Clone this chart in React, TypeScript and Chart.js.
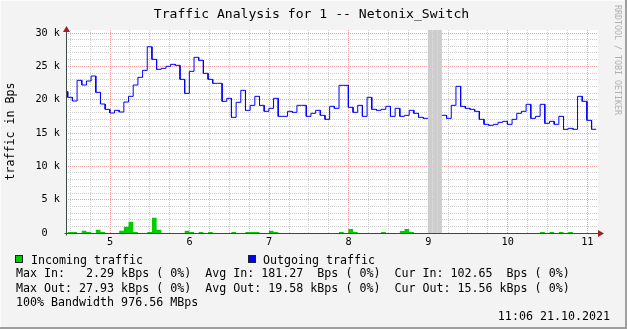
import React, { useEffect, useRef } from 'react';
import { Chart, registerables } from 'chart.js';

Chart.register(...registerables);

// ---- data ----
const TITLE = 'Traffic Analysis for 1 -- Netonix_Switch';
const Y_TITLE = 'traffic in Bps';
const WATERMARK = 'RRDTOOL / TOBI OETIKER';
const DATE_TEXT = '11:06 21.10.2021';

const LEGEND_IN = 'Incoming traffic';
const LEGEND_OUT = 'Outgoing traffic';
const STATS_IN = 'Max In:   2.29 kBps ( 0%)  Avg In: 181.27  Bps ( 0%)  Cur In: 102.65  Bps ( 0%)';
const STATS_OUT = 'Max Out: 27.93 kBps ( 0%)  Avg Out: 19.58 kBps ( 0%)  Cur Out: 15.56 kBps ( 0%)';
const STATS_BW = '100% Bandwidth 976.56 MBps';

// time axis (hours of day)
const START_HOUR = 4.4095; // start of first sample
const STEP_HOURS = 0.0588; // sample duration
const X_MIN = 4.4465;
const X_MAX = 11.1345;
const Y_MAX = 30450;

const hourTicks = [5, 6, 7, 8, 9, 10, 11];
const yMajorTicks = [0, 5000, 10000, 15000, 20000, 25000, 30000];

// outgoing traffic, Bps (null = unknown)
const outgoing: (number | null)[] = [
  21200, 20350, 19800, 22900, 22200, 22800, 23550, 21100, 19350, 18550,
  18000, 18400, 18150, 19650, 20500, 22200, 23350, 24400, 27930, 26050,
  24550, 24700, 25000, 25300, 25150, 23050, 20950, 24250, 26350, 25900,
  23950, 23050, 22450, 22450, 19750, 20200, 17350, 19600, 21400, 18400,
  19150, 20500, 19150, 18250, 18700, 20200, 17500, 17500, 18250, 18100,
  19150, 19150, 17500, 17950, 18400, 17650, 17050, 19000, 18700, 22150,
  22150, 18850, 18100, 19150, 17500, 20350, 18550, 18400, 18550, 19000,
  17500, 18700, 17500, 17650, 18400, 17950, 17350, 17200, null, null,
  null, 17650, 17200, 19150, 22000, 19000, 18700, 18550, 18250, 17050,
  16300, 16150, 16300, 16600, 16750, 16300, 17050, 17950, 18250, 19300,
  17200, 17500, 19300, 16450, 16750, 16300, 17500, 15550, 15700, 15550,
  20500, 19750, 16900, 15560,
];

// incoming traffic, Bps (null = unknown)
const incoming: (number | null)[] = [
  0, 150, 150, 0, 350, 150, 0, 500, 150, 0,
  0, 0, 350, 950, 1700, 150, 0, 0, 150, 2290,
  500, 0, 0, 0, 0, 0, 350, 150, 0, 150,
  0, 150, 0, 0, 0, 0, 150, 0, 0, 150,
  150, 150, 0, 0, 350, 150, 0, 0, 0, 0,
  0, 0, 0, 0, 0, 0, 0, 0, 0, 150,
  0, 600, 150, 0, 0, 0, 0, 0, 150, 0,
  0, 0, 300, 600, 150, 0, 0, 0, null, null,
  null, 0, 0, 0, 0, 0, 0, 0, 0, 0,
  0, 0, 0, 0, 0, 0, 0, 0, 0, 0,
  0, 0, 150, 0, 150, 0, 150, 0, 150, 0,
  0, 0, 0, 0,
];

// ---- styles ----
const MONO = '"DejaVu Sans Mono", monospace';
const BACK = '#f3f3f3';
const IN_COLOR = '#00cc00';
const OUT_COLOR = '#0000ff';
const GRID_MINOR = '#cfcfcf';
const GRID_MAJOR = '#f0a0a0';
const AXIS_COLOR = '#3a4a44';
const ARROW_COLOR = '#a02020';
const UNKNOWN_COLOR = '#cdcdcd';

function stepPoints(values: (number | null)[]) {
  const pts: { x: number; y: number | null }[] = [];
  values.forEach((v, i) => {
    const t0 = START_HOUR + i * STEP_HOURS;
    const t1 = t0 + STEP_HOURS;
    if (v === null) {
      pts.push({ x: t0, y: null });
      return;
    }
    pts.push({ x: t0, y: v }, { x: t1, y: v });
  });
  return pts;
}

const isInt = (v: number) => Math.abs(v - Math.round(v)) < 1e-6;

const framePlugin = {
  id: 'rrdFrame',
  beforeDraw(chart: any) {
    const { ctx, width, height, chartArea } = chart;
    ctx.save();
    ctx.fillStyle = BACK;
    ctx.fillRect(0, 0, width, height);
    ctx.fillStyle = '#fcfcfc';
    ctx.fillRect(0, 0, width, 1);
    ctx.fillRect(0, 0, 1, height);
    ctx.fillStyle = '#9e9e9e';
    ctx.fillRect(0, height - 2, width, 2);
    ctx.fillRect(width - 2, 0, 2, height);
    ctx.fillStyle = '#ffffff';
    ctx.fillRect(chartArea.left, chartArea.top, chartArea.right - chartArea.left, chartArea.bottom - chartArea.top);
    ctx.restore();
  },
  beforeDatasetsDraw(chart: any) {
    const { ctx, chartArea, scales } = chart;
    ctx.save();
    ctx.fillStyle = UNKNOWN_COLOR;
    outgoing.forEach((v, i) => {
      if (v !== null) return;
      const x0 = scales.x.getPixelForValue(START_HOUR + i * STEP_HOURS);
      const x1 = scales.x.getPixelForValue(START_HOUR + (i + 1) * STEP_HOURS);
      ctx.fillRect(x0, chartArea.top, x1 - x0, chartArea.bottom - chartArea.top);
    });
    ctx.restore();
  },
  afterDatasetsDraw(chart: any) {
    const { ctx, chartArea } = chart;
    const y0 = Math.round(chartArea.bottom) + 0.5;
    const x0 = Math.round(chartArea.left) + 0.5;
    ctx.save();
    ctx.strokeStyle = AXIS_COLOR;
    ctx.lineWidth = 1;
    ctx.beginPath();
    ctx.moveTo(x0 - 2, y0);
    ctx.lineTo(chartArea.right + 2, y0);
    ctx.moveTo(x0, y0 + 2);
    ctx.lineTo(x0, chartArea.top - 1);
    ctx.stroke();
    ctx.fillStyle = ARROW_COLOR;
    ctx.beginPath();
    ctx.moveTo(chartArea.right, y0 - 3.5);
    ctx.lineTo(chartArea.right + 6, y0);
    ctx.lineTo(chartArea.right, y0 + 3.5);
    ctx.closePath();
    ctx.fill();
    ctx.beginPath();
    ctx.moveTo(x0 - 3.5, chartArea.top + 2);
    ctx.lineTo(x0, chartArea.top - 4);
    ctx.lineTo(x0 + 3.5, chartArea.top + 2);
    ctx.closePath();
    ctx.fill();
    ctx.restore();
  },
};

export default function App() {
  const ref = useRef<HTMLCanvasElement | null>(null);

  useEffect(() => {
    if (!ref.current) return;
    const tickFont = { family: MONO, size: 10.2 };
    const chart = new Chart(ref.current, {
      type: 'line',
      data: {
        datasets: [
          {
            label: LEGEND_OUT,
            data: stepPoints(outgoing) as any,
            borderColor: OUT_COLOR,
            borderWidth: 1,
            pointRadius: 0,
            fill: false,
            tension: 0,
            spanGaps: false,
          },
          {
            label: LEGEND_IN,
            data: stepPoints(incoming) as any,
            borderColor: IN_COLOR,
            borderWidth: 0,
            backgroundColor: IN_COLOR,
            pointRadius: 0,
            fill: 'origin',
            tension: 0,
            spanGaps: false,
          },
        ],
      },
      options: {
        animation: false,
        responsive: false,
        devicePixelRatio: 1,
        layout: { padding: { top: 30, right: 29, left: 0, bottom: 0 } },
        plugins: {
          legend: { display: false },
          title: { display: false },
          tooltip: { enabled: false },
        },
        scales: {
          x: {
            type: 'linear',
            min: X_MIN,
            max: X_MAX,
            afterFit: (s: any) => {
              s.height = 96;
            },
            afterBuildTicks: (s: any) => {
              const ticks: { value: number }[] = [];
              const first = Math.ceil(X_MIN * 4);
              const last = Math.floor(X_MAX * 4);
              for (let q = first; q <= last; q++) ticks.push({ value: q / 4 });
              s.ticks = ticks;
            },
            ticks: {
              autoSkip: false,
              maxRotation: 0,
              padding: 3,
              color: '#000',
              font: tickFont,
              callback: (v: any) => (hourTicks.includes(Number(v)) ? String(v) : ''),
            },
            grid: {
              drawTicks: false,
              lineWidth: 1,
              color: (c: any) => (c.tick && isInt(c.tick.value) ? GRID_MAJOR : GRID_MINOR),
            },
            border: { display: false, dash: [1, 1] },
          },
          y: {
            type: 'linear',
            min: 0,
            max: Y_MAX,
            afterFit: (s: any) => {
              s.width = 66;
            },
            afterBuildTicks: (s: any) => {
              const ticks: { value: number }[] = [];
              for (let k = 0; k <= 30; k++) ticks.push({ value: k * 1000 });
              s.ticks = ticks;
            },
            ticks: {
              autoSkip: false,
              padding: 6,
              color: '#000',
              font: tickFont,
              callback: (v: any) => {
                const n = Number(v);
                if (!yMajorTicks.includes(n)) return '';
                return n === 0 ? '0  ' : `${n / 1000} k`;
              },
            },
            grid: {
              drawTicks: false,
              lineWidth: 1,
              color: (c: any) => (c.tick && yMajorTicks.includes(c.tick.value) ? GRID_MAJOR : GRID_MINOR),
            },
            border: { display: false, dash: [1, 1] },
            title: {
              display: true,
              text: Y_TITLE,
              color: '#000',
              font: { family: MONO, size: 11.65 },
              padding: { top: 4, bottom: 0 },
            },
          },
        },
      } as any,
      plugins: [framePlugin],
    });
    return () => chart.destroy();
  }, []);

  const legendFont: React.CSSProperties = {
    position: 'absolute',
    fontFamily: MONO,
    fontSize: 11.65,
    lineHeight: '14px',
    whiteSpace: 'pre',
    color: '#000',
  };

  return (
    <div style={{ position: 'absolute', left: 0, top: 0, width: 627, height: 329, overflow: 'hidden' }}>
      <canvas ref={ref} width={627} height={329} style={{ display: 'block', width: 627, height: 329 }} />
      <div
        style={{
          position: 'absolute',
          left: -2,
          top: 6,
          width: 627,
          textAlign: 'center',
          fontFamily: MONO,
          fontSize: 13.1,
          lineHeight: '16px',
          whiteSpace: 'pre',
          color: '#000',
        }}
      >
        {TITLE}
      </div>
      <div
        style={{
          position: 'absolute',
          left: 612.5,
          top: 5,
          writingMode: 'vertical-rl',
          fontFamily: MONO,
          fontSize: 8.3,
          lineHeight: '10px',
          whiteSpace: 'pre',
          color: '#b0b0b0',
        }}
      >
        {WATERMARK}
      </div>
      <div style={{ position: 'absolute', left: 15, top: 255, width: 8, height: 8, boxSizing: 'border-box', border: '1px solid #202020', background: IN_COLOR }} />
      <div style={{ ...legendFont, left: 31, top: 252.5 }}>{LEGEND_IN}</div>
      <div style={{ position: 'absolute', left: 248, top: 255, width: 8, height: 8, boxSizing: 'border-box', border: '1px solid #202020', background: OUT_COLOR }} />
      <div style={{ ...legendFont, left: 263, top: 252.5 }}>{LEGEND_OUT}</div>
      <div style={{ ...legendFont, left: 16, top: 266.3 }}>{STATS_IN}</div>
      <div style={{ ...legendFont, left: 16, top: 280.7 }}>{STATS_OUT}</div>
      <div style={{ ...legendFont, left: 16, top: 294.7 }}>{STATS_BW}</div>
      <div style={{ ...legendFont, right: 17, top: 308.7, textAlign: 'right' }}>{DATE_TEXT}</div>
    </div>
  );
}
